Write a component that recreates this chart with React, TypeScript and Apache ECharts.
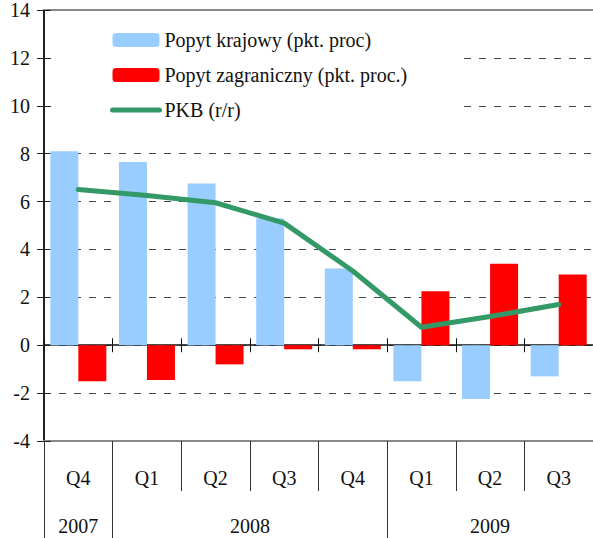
import React, { useEffect, useRef } from "react";
import * as echarts from "echarts";

const quarters = ["Q4", "Q1", "Q2", "Q3", "Q4", "Q1", "Q2", "Q3"];
const quarterYears = ["2007", "2008", "2008", "2008", "2008", "2009", "2009", "2009"];
const domesticDemand = [8.1, 7.65, 6.75, 5.3, 3.2, -1.5, -2.25, -1.3];
const foreignDemand = [-1.5, -1.45, -0.8, -0.17, -0.17, 2.25, 3.4, 2.95];
const gdp = [6.5, 6.25, 5.95, 5.1, 3.1, 0.75, 1.2, 1.7];
const seriesNames = ["Popyt krajowy (pkt. proc)", "Popyt zagraniczny (pkt. proc.)", "PKB (r/r)"];
const yMin = -4;
const yMax = 14;
const yStep = 2;

const FONT = "Liberation Serif";

export default function App() {
  const ref = useRef<HTMLDivElement>(null);
  useEffect(() => {
    if (!ref.current) return;
    const chart = echarts.init(ref.current, null, { renderer: "svg" });
    const n = quarters.length;
    const groups: { year: string; start: number; end: number }[] = [];
    quarterYears.forEach((y, i) => {
      const last = groups[groups.length - 1];
      if (last && last.year === y) last.end = i + 1;
      else groups.push({ year: y, start: i, end: i + 1 });
    });
    const qLabelMap = new Map<string, string>();
    quarters.forEach((q, i) => qLabelMap.set((i + 0.5).toFixed(2), q));
    const yLabelMap = new Map<string, string>();
    groups.forEach((g) => yLabelMap.set(((g.start + g.end) / 2).toFixed(2), g.year));
    const innerBounds = quarters.slice(1).map((_, i) => i + 1);
    const yearBounds = [0, ...groups.slice(1).map((g) => g.start)];

    chart.setOption({
      animation: false,
      backgroundColor: "#fff",
      textStyle: { fontFamily: FONT },
      grid: { left: 44, right: -4, top: 10, bottom: 97, containLabel: false },
      legend: {
        orient: "vertical",
        left: 110,
        top: 30,
        padding: 0,
        itemWidth: 47,
        itemHeight: 14,
        itemGap: 15,
        data: [
          { name: seriesNames[0] },
          { name: seriesNames[1] },
          { name: seriesNames[2], itemStyle: { opacity: 0 }, lineStyle: { cap: "round", width: 5 } },
        ],
        textStyle: { fontFamily: FONT, fontSize: 20, color: "#111" },
      },
      graphic: [
        {
          type: "rect",
          z: 1,
          shape: { x: 52, y: 20, width: 406, height: 105 },
          style: { fill: "#fff" },
          silent: true,
        },
      ],
      xAxis: [
        {
          type: "category",
          data: quarters,
          position: "bottom",
          axisLine: { show: true, onZero: true, lineStyle: { color: "#111", width: 1.5 } },
          axisTick: { show: true, interval: 0, alignWithLabel: false, length: 7, lineStyle: { color: "#111" } },
          axisLabel: { show: false },
          splitLine: { show: false },
        },
        {
          type: "category",
          data: quarters,
          position: "bottom",
          axisLine: { show: false, onZero: true },
          axisTick: { show: true, inside: true, interval: 0, alignWithLabel: false, length: 7, lineStyle: { color: "#111" } },
          axisLabel: { show: false },
          splitLine: { show: false },
        },
        {
          type: "value",
          min: 0,
          max: n,
          position: "bottom",
          axisLine: { show: true, onZero: false, lineStyle: { color: "#888", width: 2 } },
          axisTick: { show: true, customValues: innerBounds, length: 50, lineStyle: { color: "#333" } },
          axisLabel: {
            show: true,
            customValues: quarters.map((_, i) => i + 0.5),
            formatter: (v: number) => qLabelMap.get(v.toFixed(2)) ?? "",
            margin: 27,
            fontFamily: FONT,
            fontSize: 20,
            color: "#111",
          },
          splitLine: { show: false },
        },
        {
          type: "value",
          min: 0,
          max: n,
          position: "bottom",
          axisLine: { show: false, onZero: false },
          axisTick: { show: true, customValues: yearBounds, length: 100, lineStyle: { color: "#333" } },
          axisLabel: {
            show: true,
            customValues: groups.map((g) => (g.start + g.end) / 2),
            formatter: (v: number) => yLabelMap.get(v.toFixed(2)) ?? "",
            margin: 75,
            fontFamily: FONT,
            fontSize: 20,
            color: "#111",
          },
          splitLine: { show: false },
        },
        {
          type: "value",
          min: 0,
          max: n,
          position: "top",
          axisLine: { show: true, onZero: false, lineStyle: { color: "#888", width: 2 } },
          axisTick: { show: false },
          axisLabel: { show: false },
          splitLine: { show: false },
        },
      ],
      yAxis: [
        {
          type: "value",
          min: yMin,
          max: yMax,
          interval: yStep,
          position: "left",
          axisLine: { show: true, onZero: false, lineStyle: { color: "#222", width: 2 } },
          axisTick: { show: true, length: 7, lineStyle: { color: "#222" } },
          axisLabel: { margin: 14, fontFamily: FONT, fontSize: 20, color: "#111" },
          splitLine: { show: true, lineStyle: { type: [7, 8], color: "#444", width: 1 } },
        },
        {
          type: "value",
          min: yMin,
          max: yMax,
          interval: yStep,
          position: "left",
          axisLine: { show: false, onZero: false },
          axisTick: { show: true, inside: true, length: 7, lineStyle: { color: "#222" } },
          axisLabel: { show: false },
          splitLine: { show: false },
        },
      ],
      series: [
        {
          name: seriesNames[0],
          type: "bar",
          xAxisIndex: 0,
          yAxisIndex: 0,
          data: domesticDemand,
          barWidth: 28,
          barGap: "0%",
          itemStyle: { color: "#99CCFF" },
          z: 2,
        },
        {
          name: seriesNames[1],
          type: "bar",
          xAxisIndex: 0,
          yAxisIndex: 0,
          data: foreignDemand,
          barWidth: 28,
          barGap: "0%",
          itemStyle: { color: "#FF0000" },
          z: 2,
        },
        {
          name: seriesNames[2],
          type: "line",
          xAxisIndex: 0,
          yAxisIndex: 0,
          data: gdp,
          symbol: "none",
          showSymbol: false,
          lineStyle: { color: "#339966", width: 5, cap: "round", join: "round" },
          itemStyle: { color: "#339966" },
          z: 3,
        },
      ],
    });
    return () => chart.dispose();
  }, []);
  return (
    <div
      ref={ref}
      style={{ position: "fixed", left: 0, top: 0, width: 593, height: 538, background: "#fff" }}
    />
  );
}
